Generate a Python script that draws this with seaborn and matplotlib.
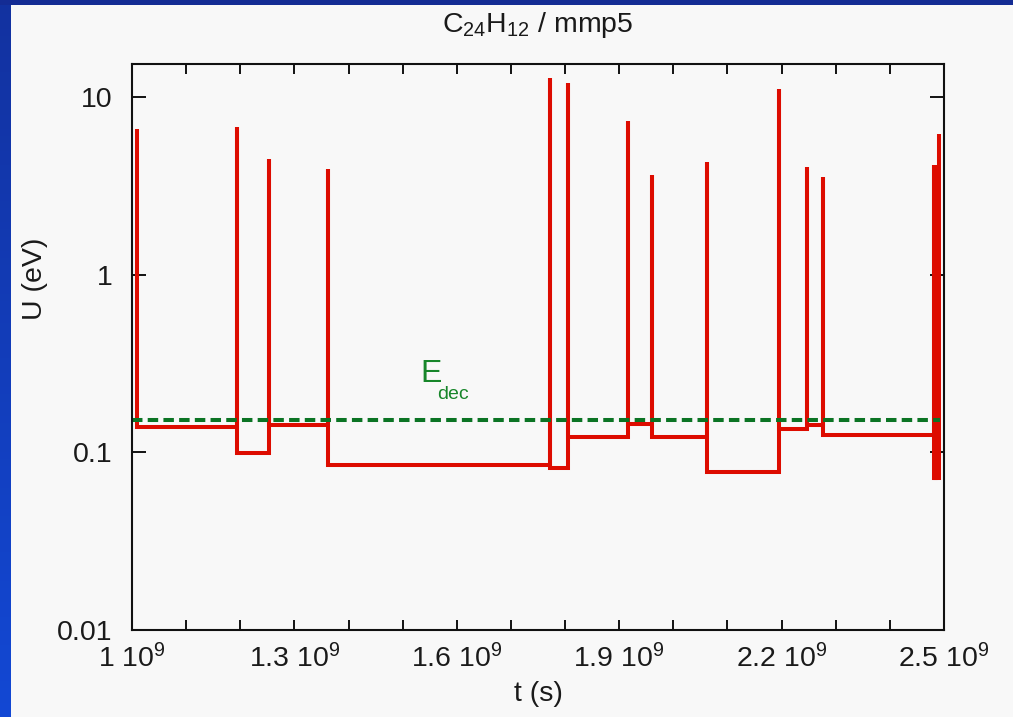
import numpy as np
import pandas as pd
import matplotlib
matplotlib.use("Agg")
import matplotlib.pyplot as plt
import seaborn as sns
from matplotlib.ticker import FixedLocator, FuncFormatter, NullLocator
from matplotlib.colors import LinearSegmentedColormap

# ---------------- data ----------------
# times of the energy jumps (units of 1e9 s)
event_t = [1.009, 1.194, 1.253, 1.362, 1.773, 1.806, 1.917, 1.961, 2.063,
           2.195, 2.247, 2.276, 2.4815, 2.4835, 2.4855, 2.4915]
# spike maxima (eV)
event_peak = [6.6, 6.8, 4.46, 3.92, 12.7, 11.9, 7.3, 3.64, 4.3,
              11.1, 4.04, 3.54, 4.15, 4.15, 4.15, 6.2]
# plateau level after each spike (eV)
level_after = [0.138, 0.099, 0.1425, 0.0845, 0.082, 0.122, 0.144, 0.122, 0.077,
               0.135, 0.1425, 0.1247, 0.072, 0.072, 0.072, np.nan]
e_dec = 0.152
e_dec_span = [1.0, 2.4925]
x_ticks = [1.0, 1.3, 1.6, 1.9, 2.2, 2.5]
x_minor = [1.1, 1.2, 1.4, 1.5, 1.7, 1.8, 2.0, 2.1, 2.3, 2.4]
y_ticks = [0.01, 0.1, 1, 10]
y_tick_labels = ["0.01", "0.1", "1", "10"]
title_text = r"C$_{24}$H$_{12}$ / mmp5"

# ---------------- build step path ----------------
xs, ys = [], []
prev = None
for t, pk, lv in zip(event_t, event_peak, level_after):
    if prev is not None:
        xs.append(t * 1e9); ys.append(prev)
    xs.append(t * 1e9); ys.append(pk)
    if not np.isnan(lv):
        xs.append(t * 1e9); ys.append(lv)
        prev = lv
df = pd.DataFrame({"t": xs, "U": ys})
df_dec = pd.DataFrame({"t": [v * 1e9 for v in e_dec_span], "U": [e_dec, e_dec]})

# ---------------- style ----------------
sns.set_theme(style="ticks")
bg = "#f8f8f8"
plt.rcParams["font.family"] = ["Liberation Sans", "DejaVu Sans"]
plt.rcParams["mathtext.fontset"] = "custom"
plt.rcParams["mathtext.rm"] = "Liberation Sans"
plt.rcParams["mathtext.it"] = "Liberation Sans"
plt.rcParams["mathtext.bf"] = "Liberation Sans"

fig = plt.figure(figsize=(10.13, 7.17), dpi=100, facecolor=bg)
ax = fig.add_axes([132 / 1013, 1 - 630 / 717, (944 - 132) / 1013, (630 - 64) / 717])
ax.set_facecolor(bg)

# blue frame strips
left = fig.add_axes([0, 0, 10 / 1013, 1])
cmap = LinearSegmentedColormap.from_list("b", ["#1232a0", "#1248d4"])
left.imshow(np.linspace(0, 1, 100).reshape(-1, 1), aspect="auto", cmap=cmap)
left.set_axis_off()
top = fig.add_axes([0, 1 - 5 / 717, 1, 5 / 717])
top.set_facecolor("#142c94")
top.set_xticks([]); top.set_yticks([])
for s in top.spines.values():
    s.set_visible(False)

sns.lineplot(data=df, x="t", y="U", sort=False, estimator=None, ax=ax,
             color="#dd0c00", linewidth=2.9, solid_joinstyle="miter",
             solid_capstyle="butt")
sns.lineplot(data=df_dec, x="t", y="U", sort=False, estimator=None, ax=ax,
             color="#0b7424", linewidth=2.9)
ax.lines[-1].set_dashes([2.6, 1.3])
ax.lines[-1].set_dash_capstyle("butt")

ax.set_yscale("log")
ax.set_xlim(1.0e9, 2.5e9)
ax.set_ylim(0.01, 15.3)

ax.xaxis.set_major_locator(FixedLocator([v * 1e9 for v in x_ticks]))
ax.xaxis.set_minor_locator(FixedLocator([v * 1e9 for v in x_minor]))
ax.xaxis.set_major_formatter(FuncFormatter(lambda v, p: f"{v / 1e9:g} 10$^9$"))
ax.yaxis.set_major_locator(FixedLocator(y_ticks))
ax.yaxis.set_minor_locator(NullLocator())
ax.set_yticklabels(y_tick_labels)

ax.tick_params(axis="both", which="both", direction="in", top=True, right=True,
               width=1.4, color="#111111", labelsize=20.5, labelcolor="#1a1a1a")
ax.tick_params(axis="x", which="both", length=7.5, pad=10)
ax.tick_params(axis="y", which="major", length=10, pad=14)
for s in ax.spines.values():
    s.set_linewidth(1.5)
    s.set_color("#111111")

ax.set_xlabel("t (s)", fontsize=20.5, color="#1a1a1a", labelpad=6)
ax.set_ylabel("U (eV)", fontsize=20.5, color="#1a1a1a")
ax.yaxis.set_label_coords(-0.104, 0.62)
ax.set_title(title_text, fontsize=20.5, color="#1a1a1a", pad=23)

ax.text(1.5327e9, 0.248, "E", fontsize=23, color="#17862a", ha="left", va="baseline")
ax.text(1.5642e9, 0.199, "dec", fontsize=14, color="#17862a", ha="left", va="baseline")

fig.savefig("out.png", dpi=100, facecolor=bg)
